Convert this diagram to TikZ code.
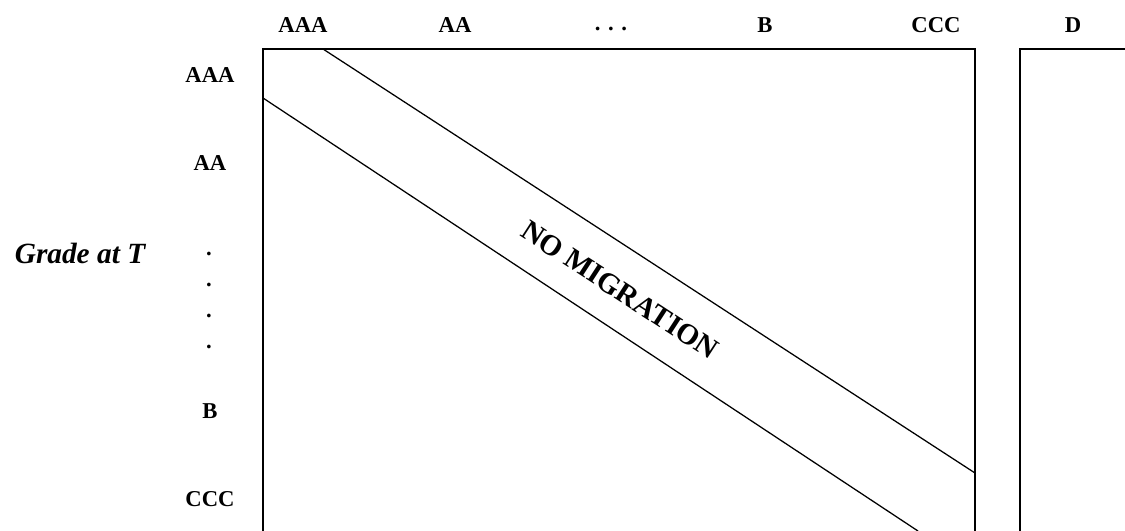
\documentclass[tikz,border=0pt]{standalone}
\usepackage{fontspec}
\setmainfont{Liberation Serif}
\usetikzlibrary{positioning}

\begin{document}
\begin{tikzpicture}[
    x=0.75pt, y=-0.75pt,
    grade/.style={font=\fontsize{17}{20}\selectfont\bfseries, inner sep=0pt},
    axistitle/.style={font=\fontsize{22}{26}\selectfont\bfseries\itshape, inner sep=0pt},
    bandtext/.style={font=\fontsize{22}{26}\selectfont\bfseries, inner sep=0pt, rotate=-33},
    frame/.style={draw=black, line width=1.1pt},
    band/.style={draw=black, line width=0.95pt}
]
    \useasboundingbox (0,0) rectangle (1125,531);

    % Grades at T+1 (columns)
    \node (col_aaa) [grade] at (303,25) {AAA};
    \node (col_aa) [grade] at (455,25) {AA};
    \node (col_dots) [grade] at (611,29) {. . .};
    \node (col_b) [grade] at (765,25) {B};
    \node (col_ccc) [grade] at (936,25) {CCC};
    \node (col_d) [grade] at (1073,25) {D};

    % Grades at T (rows)
    \node (row_aaa) [grade] at (210,75) {AAA};
    \node (row_aa) [grade] at (210,163) {AA};
    \node (row_dot1) [grade] at (209,254) {.};
    \node (row_dot2) [grade] at (209,285) {.};
    \node (row_dot3) [grade] at (209,316) {.};
    \node (row_dot4) [grade] at (209,347) {.};
    \node (row_b) [grade] at (210,411) {B};
    \node (row_ccc) [grade] at (210,499) {CCC};
    \node (title_t) [axistitle] at (80,253) {Grade at T};

    % Transition matrix frame and default column
    \coordinate (mat_bl) at (263,531);
    \coordinate (mat_tr) at (975,49);
    \coordinate (mat_br) at (975,531);
    \coordinate (def_bl) at (1020,531);
    \coordinate (def_tr) at (1125,49);
    \draw [frame] (mat_bl) |- (mat_tr) -- (mat_br);
    \draw [frame] (def_bl) |- (def_tr);

    % Diagonal band
    \coordinate (band_up_a) at (323,49);
    \coordinate (band_up_b) at (975,473);
    \coordinate (band_lo_a) at (263,98);
    \coordinate (band_lo_b) at (918,531);
    \draw [band] (band_up_a) -- (band_up_b);
    \draw [band] (band_lo_a) -- (band_lo_b);
    \node (band_lbl) [bandtext] at (620,290) {NO MIGRATION};

\end{tikzpicture}
\end{document}
